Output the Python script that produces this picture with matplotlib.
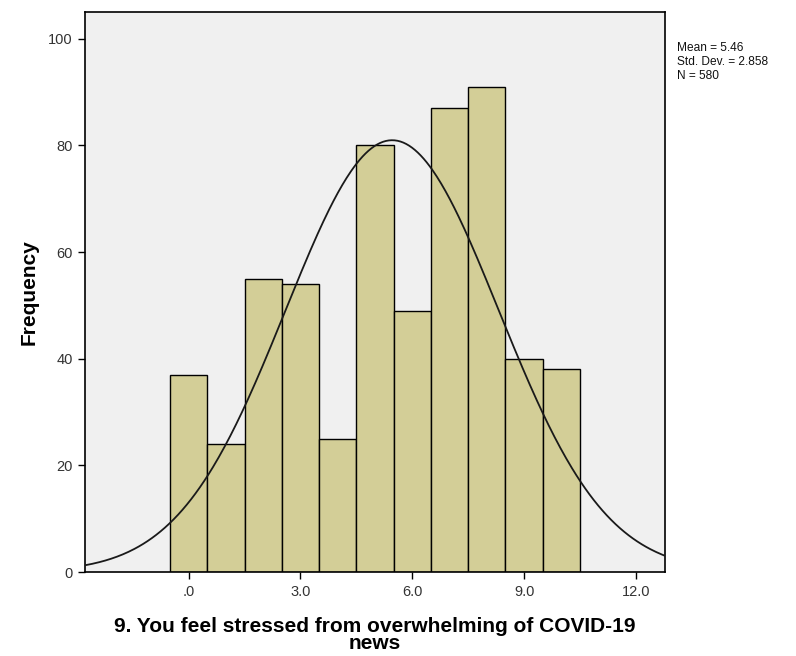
import numpy as np
import matplotlib.pyplot as plt

plt.rcParams['font.family'] = ['Liberation Sans', 'DejaVu Sans']

# response score (0-10) and how many respondents gave it
scores = [0, 1, 2, 3, 4, 5, 6, 7, 8, 9, 10]
counts = [37, 24, 55, 54, 25, 80, 49, 87, 91, 40, 38]
mean_val = 5.46
std_val = 2.858
n_total = 580

xticks = [0, 3, 6, 9, 12]
xtick_labels = [".0", "3.0", "6.0", "9.0", "12.0"]
yticks = [0, 20, 40, 60, 80, 100]

fig = plt.figure(figsize=(7.96, 6.56), dpi=100)
ax = fig.add_axes([0.1068, 0.128, 0.7286, 0.8537])
ax.set_facecolor("#f0f0f0")

ax.bar(scores, counts, width=1.0, color="#d3ce97", edgecolor="black",
       linewidth=1.0, zorder=2)

# normal curve scaled to counts (bin width = 1)
xs = np.linspace(-2.78, 12.78, 400)
pdf = np.exp(-0.5 * ((xs - mean_val) / std_val) ** 2) / (std_val * np.sqrt(2 * np.pi))
ax.plot(xs, n_total * pdf, color="#1a1a1a", linewidth=1.3, zorder=3)

ax.set_xlim(-2.78, 12.78)
ax.set_ylim(0, 105)
ax.set_xticks(xticks)
ax.set_xticklabels(xtick_labels)
ax.set_yticks(yticks)
ax.tick_params(direction="out", length=5, width=1, labelsize=10.5,
               labelcolor="#333333", pad=4)
for s in ax.spines.values():
    s.set_linewidth(1.2)
    s.set_color("black")

ax.set_ylabel("Frequency", fontsize=15, fontweight="bold", labelpad=7)
ax.set_xlabel("9. You feel stressed from overwhelming of COVID-19\nnews",
              fontsize=15, fontweight="bold", labelpad=13, linespacing=0.92)

fig.text(0.851, 0.936, f"Mean = {mean_val}\nStd. Dev. = {std_val}\nN = {n_total}",
         fontsize=8.6, va="top", ha="left", linespacing=1.25, color="#111111")

fig.savefig("out.png", dpi=100)
